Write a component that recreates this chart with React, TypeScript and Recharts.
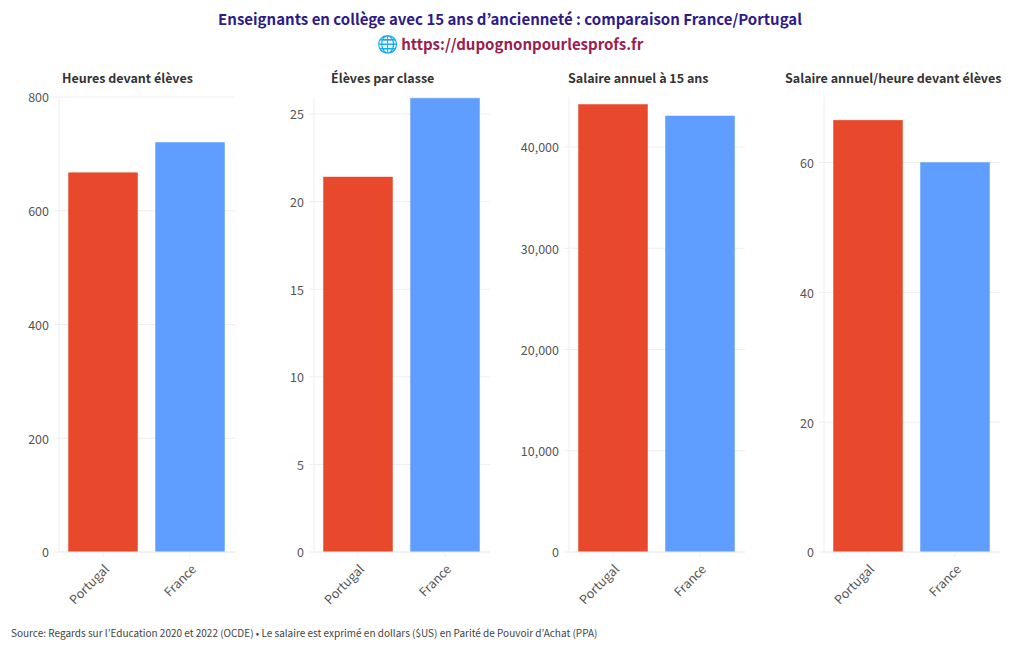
import React from 'react';
import { BarChart, Bar, XAxis, YAxis, CartesianGrid, Cell } from 'recharts';

const FONT = '"Noto Sans CJK KR", "Noto Sans", sans-serif';

const countries = ['Portugal', 'France'];
const barColors = ['#E8492C', '#5F9EFF'];

const hours = [667, 720];
const pupils = [21.4, 25.9];
const salary = [44200, 43060];
const salaryPerHour = [66.5, 60];

const panels = [
  { title: 'Heures devant élèves', values: hours, max: 800, ticks: [0, 200, 400, 600, 800], left: 0, titleX: 62 },
  { title: 'Élèves par classe', values: pupils, max: 25.97, ticks: [0, 5, 10, 15, 20, 25], left: 255, titleX: 331 },
  { title: 'Salaire annuel à 15 ans', values: salary, max: 44938, ticks: [0, 10000, 20000, 30000, 40000], left: 510, titleX: 568 },
  { title: 'Salaire annuel/heure devant élèves', values: salaryPerHour, max: 70.1, ticks: [0, 20, 40, 60], left: 765, titleX: 785 },
];

const RotatedTick = ({ x, y, payload }: any) => (
  <text
    x={x + 7}
    y={y + 11}
    transform={`rotate(-45 ${x + 7} ${y + 11})`}
    textAnchor="end"
    fontSize={12.5}
    fontFamily={FONT}
    fill="#555"
  >
    {payload.value}
  </text>
);

const Panel = ({ panel }: any) => {
  const data = countries.map((country, i) => ({ country, value: panel.values[i] }));
  return (
    <div style={{ position: 'absolute', left: panel.left, top: 80, width: 255, height: 540 }}>
      <BarChart
        width={255}
        height={540}
        data={data}
        barSize={69}
        margin={{ top: 17, right: 20, left: 0, bottom: 0 }}
      >
        <CartesianGrid stroke="#eee" strokeWidth={1} vertical={false} syncWithTicks />
        <XAxis
          dataKey="country"
          height={68}
          interval={0}
          padding={{ left: 0.5, right: 1.5 }}
          tickSize={5}
          axisLine={{ stroke: '#eee' }}
          tickLine={{ stroke: '#eee' }}
          tick={<RotatedTick />}
        />
        <YAxis
          width={59}
          domain={[0, panel.max]}
          ticks={panel.ticks}
          allowDataOverflow
          tickSize={5}
          tickMargin={5}
          tickFormatter={(v: number) => v.toLocaleString('en-US')}
          axisLine={{ stroke: '#eee' }}
          tickLine={{ stroke: '#eee' }}
          tick={{ fontSize: 12.5, fontFamily: FONT, fill: '#555', dy: 1 }}
        />
        <Bar dataKey="value" isAnimationActive={false} strokeOpacity={0.5} strokeWidth={1}>
          {data.map((d, i) => (
            <Cell key={d.country} fill={barColors[i]} stroke={barColors[i]} />
          ))}
        </Bar>
      </BarChart>
    </div>
  );
};

const App = () => (
  <div style={{ position: 'absolute', left: 0, top: 0, width: 1020, height: 650, background: '#fff', fontFamily: FONT }}>
    <div style={{ position: 'absolute', top: 8, left: 0, width: 1020, textAlign: 'center', fontSize: 15, fontWeight: 700, color: '#2E1A8A' }}>
      Enseignants en collège avec 15 ans d’ancienneté : comparaison France/Portugal
    </div>
    <div style={{ position: 'absolute', top: 30, left: 0, width: 1020, textAlign: 'center', fontSize: 15, fontWeight: 700, color: '#97204F' }}>
      <span style={{ fontSize: 17 }}>🌐</span> https://dupognonpourlesprofs.fr
    </div>
    {panels.map((p) => (
      <div key={p.title} style={{ position: 'absolute', left: p.titleX, top: 68, fontSize: 12.5, fontWeight: 700, color: '#333', whiteSpace: 'nowrap' }}>
        {p.title}
      </div>
    ))}
    {panels.map((p) => (
      <Panel key={p.title} panel={p} />
    ))}
    <div style={{ position: 'absolute', left: 11, top: 625, fontSize: 10, color: '#444', whiteSpace: 'nowrap' }}>
      Source: Regards sur l’Education 2020 et 2022 (OCDE) • Le salaire est exprimé en dollars ($US) en Parité de Pouvoir d’Achat (PPA)
    </div>
  </div>
);

export default App;
